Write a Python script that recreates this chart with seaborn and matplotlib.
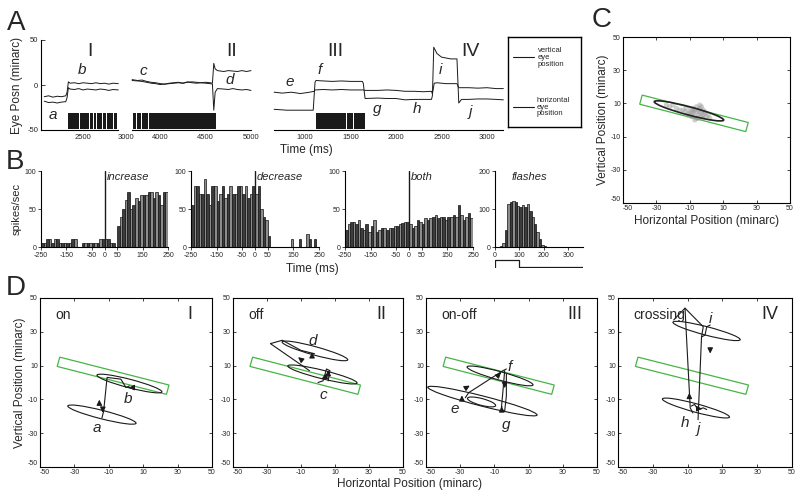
import matplotlib
matplotlib.use("Agg")
import numpy as np
import pandas as pd
import matplotlib.pyplot as plt
import seaborn as sns
from matplotlib.patches import Ellipse, Polygon

sns.set_theme(style="ticks")
plt.rcParams["font.family"] = ["Liberation Sans", "DejaVu Sans"]
plt.rcParams["axes.linewidth"] = 0.8
plt.rcParams["axes.edgecolor"] = "black"
plt.rcParams["axes.unicode_minus"] = False

W, H = 800, 498

# ---------------- Panel A data: eye position (minarc) vs time (ms) ----------------
segI_t = [2050, 2100, 2150, 2200, 2250, 2300, 2315, 2330, 2350, 2400, 2450, 2500, 2550, 2600, 2650, 2700, 2750, 2800, 2850, 2910]
segI_h = [-13, -12, -13.5, -12.5, -13, -12, -8, 3.5, 2, 2.5, 1.5, 2.5, 2, 1.5, 2.5, 1.5, 2, 1, 2, 1.5]
segI_v = [-18, -19.5, -19, -20, -19, -18.5, -14, -3, -4.5, -5, -4, -5.5, -4.5, -5, -5.5, -4.5, -5, -6, -5, -5.5]

segII_t = [3690, 3750, 3800, 3850, 3900, 3950, 4000, 4050, 4100, 4150, 4200, 4250, 4300, 4350, 4400, 4450, 4500, 4550, 4575, 4590, 4605, 4630, 4700, 4750, 4800, 4850, 4900, 4950, 5000]
segII_h = [6, 5, 5.5, 4, 3, 2.5, 1.5, 1, 2, 2.5, 3, 2, 3, 3.5, 3, 2.5, 3, 2.5, 2, 24, 18, 16, 15, 16, 15.5, 15, 16, 15, 16]
segII_v = [5, 4.5, 4, 3, 2, 1.5, 0.5, 1, 1.5, 2, 2.5, 2, 3.5, 2.5, 2, 2.5, 2, 1.5, 1, -28, -8, -4, -4.5, -5, -4, -5, -5.5, -5, -6]

segIII_t1 = [660, 750, 850, 950, 1050, 1100, 1110, 1200, 1300, 1400, 1500, 1640, 1660, 1800, 1900, 2000, 2100, 2200, 2300, 2390, 2400, 2420, 2450, 2550, 2670, 2690, 2800, 2900, 3000, 3100, 3180]
segIII_h = [-8, -9, -8, -9.5, -8, -7, -5.5, -5, -5.5, -5, -5.5, -5.5, -6, -6, -5.5, -6, -7, -7, -7.5, -7, -10, 2, 2.5, 1.5, 1.5, -3, -3, -3.5, -3, -4, -4]
segIII_t2 = [660, 800, 950, 1090, 1110, 1120, 1200, 1300, 1400, 1500, 1630, 1640, 1660, 1800, 1900, 2000, 2100, 2200, 2300, 2390, 2400, 2415, 2450, 2500, 2600, 2670, 2690, 2720, 2800, 2900, 3000, 3100, 3180]
segIII_v = [-27, -28, -28, -28, 3, 5, 4.5, 4, 4.5, 4, 4, 2, -15, -14.5, -15, -15, -16.5, -16, -16, -16, -12, 42, 35, 31, 29, 29, -20, -16, -16, -15.5, -15.5, -16, -16.5]

rasterI_start = [2330, 2364, 2460, 2538, 2577, 2623, 2663, 2701, 2732, 2779, 2817, 2856, 2875]
rasterI_end = [2357, 2453, 2531, 2570, 2616, 2656, 2694, 2725, 2772, 2810, 2849, 2868, 2892]
rasterII_start = [3700, 3743, 3800, 3836, 3873, 4374, 4541]
rasterII_end = [3736, 3793, 3829, 3866, 4367, 4534, 4615]
rasterIII_start = [1122, 1190, 1460, 1535]
rasterIII_end = [1183, 1453, 1528, 1655]

# ---------------- Panel B data: spikes/sec in 10 ms bins ----------------
bin_left = list(range(-250, 250, 10))
increase = [5, 5, 10, 10, 5, 10, 10, 5, 5, 5, 5, 5, 10, 10, 0, 0, 5, 5, 5, 5, 5, 5, 5, 10, 10,
            10, 10, 5, 5, 0, 28, 40, 50, 62, 72, 50, 55, 65, 60, 68, 68, 68, 72, 72, 65, 72, 68, 55, 72, 72]
decrease = [55, 80, 80, 70, 70, 90, 70, 55, 80, 80, 60, 70, 80, 65, 70, 80, 70, 70, 80, 80, 70, 80, 65, 70, 80,
            70, 80, 50, 40, 35, 15, 0, 0, 0, 0, 0, 0, 0, 0, 10, 0, 0, 10, 0, 0, 17, 10, 0, 10, 0]
both = [22, 30, 33, 33, 30, 35, 25, 22, 30, 20, 28, 35, 20, 22, 25, 25, 22, 25, 25, 28, 28, 30, 32, 33, 33,
        30, 25, 28, 35, 33, 30, 38, 35, 38, 40, 42, 38, 40, 40, 35, 40, 40, 42, 40, 55, 42, 35, 40, 45, 38]
flash_left = list(range(0, 210, 10))
flashes = [0, 0, 3, 10, 46, 113, 118, 120, 118, 109, 106, 111, 106, 113, 95, 80, 60, 40, 20, 6, 2]
stim_t = [0, 0, 100, 100, 360]
stim_v = [0, 1, 1, 0, 0]

# ---------------- Panel C / D data (minarc) ----------------
win_x = [-38.5, -40, 23.5, 25]
win_y = [15, 9.5, -7, -1.5]

fix_x = [-24, -22, -20, -18, -16, -14, -13, -12, -11, -10, -9, -9, -8, -8, -7, -7, -6, -6, -5, -5,
         -4, -4, -3, -3, -2, -2, -1, 0, 1, 2, -6, -9, -4, -7, -3, -11, -5, -8, -2, -1]
fix_y = [9, 8, 9, 7, 6, 6, 5, 7, 4, 5, 6, 3, 7, 4, 2, 6, 5, 8, 3, 6,
         4, 7, 2, 5, 3, 6, 4, 2, 3, 1, 1, 2, 9, 0, 8, 3, 1, 5, 1, 5]
c_ell = (-10.5, 5.5, 43, 5, -15)

panels = {
    "I": dict(
        name="on",
        ell=[(-14, -19, 41, 5, -14.5), (2, -0.6, 39, 5, -14.8)],
        paths=[([-14, -13, -11, -3, 0, 2], [-21, -17, 3, 2, -3, -2])],
        arrows=[((-15.5, -14), (-15.5, -8.5)), ((3.5, -3), (0, -3)), ((-13.5, -15), (-13.8, -19.5))],
        labels=[("a", -17, -27), ("b", 1, -10)]),
    "II": dict(
        name="off",
        ell=[(2.6, 4.75, 42, 5, -14), (-1.8, 18.7, 40, 5, -15.4)],
        paths=[([-5, -28, -21, -10, -2], [7, 23, 25, 19, 17]),
               ([0, 3, 5, 7, 6], [0, 1, 8, 7, 1])],
        arrows=[((-8, 12), (-13, 16)), ((6, 4), (6, 9)), ((-3.5, 15), (-3.5, 19.5)), ((4, 3), (0.5, 1.5))],
        labels=[("d", -3, 24.5), ("c", 3, -7.5)]),
    "III": dict(
        name="on-off",
        ell=[(-6.7, 3.9, 40, 5, -15.5), (-17, -11, 66, 6, -14.5), (-17.5, -11.5, 17, 4, -15)],
        paths=[([-27, -25, -5, -3], [-9, -6, 7, 8]),
               ([-4, -5, -6, -4, -3, -3], [7, -5, -16, -17, -8, 5])],
        arrows=[((-29, -11), (-29, -6)), ((-28, -4), (-23, -1)), ((-4, 1), (-4, -5)),
                ((-5.7, -16), (-5.7, -12.5)), ((-8, 4), (-5, 7))],
        labels=[("f", -1, 9), ("e", -33, -15.5), ("g", -3, -25)]),
    "IV": dict(
        name="crossing",
        ell=[(0.9, 30.5, 40, 5, -15), (-5.2, -15.1, 40, 5, -15.6)],
        paths=[([-18, -11.5, -8.5, -7], [37, 44, -15, -18]),
               ([-11.5, -1, -2, -4], [44, 33, 27, -22]),
               ([-2, 0, 1, 3], [27, 28, 33, 34]),
               ([-8, -6, -4, -1, 1], [-14, -13, -16, -15, -16])],
        arrows=[((-9, -11), (-9, -4.5)), ((3, 22), (3, 15.5)), ((-4, -15.5), (0, -15.5))],
        labels=[("i", 3, 37.5), ("h", -11.5, -24), ("j", -4, -27.5)]),
}

# ---------------- figure ----------------
fig = plt.figure(figsize=(W / 100, H / 100), dpi=100)


def rect(x0, y0, x1, y1):
    return [x0 / W, 1 - y1 / H, (x1 - x0) / W, (y1 - y0) / H]


def ftext(x, y, s, **kw):
    fig.text(x / W, 1 - y / H, s, **kw)


GREEN = "#45b545"

# ---- Panel A ----
axA1 = fig.add_axes(rect(41, 40, 130, 130))
axA2 = fig.add_axes(rect(130, 40, 256, 130))
axA3 = fig.add_axes(rect(272, 40, 505, 130))
specs = [
    (axA1, (2012, 3046), segI_t, segI_h, segI_t, segI_v, rasterI_start, rasterI_end, [2500, 3000], (2012, 2910)),
    (axA2, (3667, 5055), segII_t, segII_h, segII_t, segII_v, rasterII_start, rasterII_end, [4000, 4500, 5000], (3690, 5000)),
    (axA3, (637, 3198), segIII_t1, segIII_h, segIII_t2, segIII_v, rasterIII_start, rasterIII_end,
     [1000, 1500, 2000, 2500, 3000], (660, 3180)),
]
for ax, xl, t1, y1, t2, y2, rs, re, xt, bnd in specs:
    sns.lineplot(x=t1, y=y1, ax=ax, color="k", lw=0.7, estimator=None, sort=False)
    sns.lineplot(x=t2, y=y2, ax=ax, color="k", lw=0.7, estimator=None, sort=False)
    ax.broken_barh([(s, e - s) for s, e in zip(rs, re)], (-49, 18), facecolors="k", edgecolors="none")
    ax.set_xlim(*xl)
    ax.set_ylim(-50, 50)
    ax.set_xticks(xt)
    ax.tick_params(axis="x", length=0, labelsize=5.5, pad=3)
    ax.tick_params(axis="y", direction="in", length=3, width=0.6, labelsize=5.5, pad=2)
    for s in ["top", "right"]:
        ax.spines[s].set_visible(False)
    ax.spines["bottom"].set_bounds(*bnd)
    ax.set_xlabel("")
    ax.set_ylabel("")
    ax.patch.set_alpha(0)
axA1.set_yticks([-50, 0, 50])
axA1.set_yticklabels(["-50", "0", "50"])
axA1.spines["left"].set_bounds(-50, 50)
for ax in (axA2, axA3):
    ax.spines["left"].set_visible(False)
    ax.set_yticks([])
axA1.set_ylabel("Eye Posn (minarc)", fontsize=8.5, labelpad=3)

# legend box
axL = fig.add_axes(rect(508, 37, 581, 127))
axL.set_xlim(0, 1)
axL.set_ylim(0, 1)
axL.set_xticks([])
axL.set_yticks([])
for s in axL.spines.values():
    s.set_linewidth(1.0)
axL.plot([0.07, 0.36], [0.78, 0.78], color="k", lw=0.8)
axL.plot([0.07, 0.36], [0.22, 0.22], color="k", lw=0.8)
axL.text(0.41, 0.77, "vertical\neye\nposition", fontsize=5.5, va="center", ha="left", linespacing=0.95)
axL.text(0.39, 0.22, "horizontal\neye\nposition", fontsize=5.5, va="center", ha="left", linespacing=0.95)

for s, x, y in [("I", 90, 51), ("II", 232, 51), ("III", 335, 51), ("IV", 470, 51)]:
    ftext(x, y, s, fontsize=14, ha="center", va="center")
for s, x, y in [("a", 53, 115), ("b", 82, 70), ("c", 143, 71), ("d", 230, 80), ("e", 290, 82),
                ("f", 320, 70), ("g", 377, 109), ("h", 417, 109), ("i", 440, 70), ("j", 470, 112)]:
    ftext(x, y, s, fontsize=11, style="italic", ha="center", va="center")
ftext(306, 150, "Time (ms)", fontsize=8.5, ha="center", va="center")

# ---- Panel B ----
DARK, LIGHT = "#3c3c3c", "#8c8c8c"


def hist_panel(ax, lefts, vals, width, xlim, ylim, xt, yt):
    edges = list(lefts) + [lefts[-1] + width]
    for parity, col in ((0, DARK), (1, LIGHT)):
        xs = [l + width / 2 for i, l in enumerate(lefts) if i % 2 == parity]
        ws = [v for i, v in enumerate(vals) if i % 2 == parity]
        sns.histplot(x=xs, weights=ws, bins=edges, ax=ax, color=col, facecolor=col,
                     edgecolor="black", linewidth=0.45, alpha=1)
    ax.set_xlim(*xlim)
    ax.set_ylim(*ylim)
    ax.set_xticks(xt)
    ax.set_yticks(yt)
    ax.tick_params(direction="out", length=2, width=0.6, labelsize=5, pad=1.5)
    for s in ["top", "right"]:
        ax.spines[s].set_visible(False)
    ax.set_xlabel("")
    ax.set_ylabel("")
    ax.patch.set_alpha(0)


bx = [-250, -150, -50, 0, 50, 150, 250]
axB = []
for (x0, x1), vals, lab in [((41, 168), increase, "increase"), ((191, 319), decrease, "decrease"),
                            ((345, 473), both, "both")]:
    ax = fig.add_axes(rect(x0, 171, x1, 247))
    hist_panel(ax, bin_left, vals, 10, (-250, 250), (0, 100), bx, [0, 50, 100])
    ax.axvline(0, color="k", lw=1.0, ymin=0, ymax=1)
    ax.text(8, 92, lab, fontsize=8, style="italic", ha="left", va="center")
    axB.append(ax)
axB[0].set_ylabel("spikes/sec", fontsize=8, labelpad=2)

axB4 = fig.add_axes(rect(495, 171, 583, 247))
hist_panel(axB4, flash_left, flashes, 10, (0, 361), (0, 200), [0, 100, 200, 300], [0, 100, 200])
axB4.text(140, 184, "flashes", fontsize=8, style="italic", ha="center", va="center")
axS = fig.add_axes(rect(495, 259, 583, 268))
sns.lineplot(x=stim_t, y=stim_v, ax=axS, color="k", lw=0.9, estimator=None, sort=False)
axS.set_xlim(0, 361)
axS.set_ylim(-0.1, 1.1)
axS.axis("off")
ftext(312, 269, "Time (ms)", fontsize=8.5, ha="center", va="center")

# ---- Panel C / D helpers ----
def pos_axes(ax):
    ax.set_xlim(-50, 50)
    ax.set_ylim(-50, 50)
    ticks = [-50, -30, -10, 10, 30, 50]
    ax.set_xticks(ticks)
    ax.set_yticks(ticks)
    ax.tick_params(direction="in", top=True, right=True, length=2.5, width=0.6, labelsize=5, pad=1.5)
    for s in ax.spines.values():
        s.set_visible(True)
        s.set_linewidth(0.8)
    ax.add_patch(Polygon(list(zip(win_x, win_y)), closed=True, fill=False, ec=GREEN, lw=0.9))


def fix_corner(ax):
    fig.canvas.draw()
    ax.get_xticklabels()[0].set_horizontalalignment("left")
    ax.get_yticklabels()[0].set_verticalalignment("bottom")


# ---- Panel C ----
axC = fig.add_axes(rect(623, 37, 790, 203))
pos_axes(axC)
sns.scatterplot(x=fix_x, y=fix_y, ax=axC, color="#9a9a9a", s=14, alpha=0.45, edgecolor="none")
cx, cy, cw, ch, ca = c_ell
axC.add_patch(Ellipse((cx, cy), cw, ch, angle=ca, fill=False, ec="#222222", lw=1.2))
axC.set_xlabel("Horizontal Position (minarc)", fontsize=8.5, labelpad=2)
axC.set_ylabel("Vertical Position (minarc)", fontsize=8.5, labelpad=1)
pos_list = [axC]

# ---- Panel D ----
d_rects = {"I": (40, 212), "II": (233, 403), "III": (426, 597), "IV": (618, 792)}
for key, (x0, x1) in d_rects.items():
    p = panels[key]
    ax = fig.add_axes(rect(x0, 298, x1, 467))
    pos_axes(ax)
    for (ex, ey, ew, eh, ea) in p["ell"]:
        ax.add_patch(Ellipse((ex, ey), ew, eh, angle=ea, fill=False, ec="k", lw=0.8))
    for px, py in p["paths"]:
        sns.lineplot(x=px, y=py, ax=ax, color="k", lw=0.8, estimator=None, sort=False)
    for tail, tip in p["arrows"]:
        ax.annotate("", xy=tip, xytext=tail,
                    arrowprops=dict(arrowstyle="-|>", color="k", lw=0.8, mutation_scale=8))
    for s, lx, ly in p["labels"]:
        ax.text(lx, ly, s, fontsize=11, style="italic", ha="center", va="center")
    ax.text(-41, 40, p["name"], fontsize=10, ha="left", va="center")
    ax.text(37, 40, key, fontsize=13, ha="center", va="center")
    ax.set_xlabel("")
    ax.set_ylabel("")
    if key == "I":
        ax.set_ylabel("Vertical Position (minarc)", fontsize=8.5, labelpad=1)
    pos_list.append(ax)
ftext(410, 484, "Horizontal Position (minarc)", fontsize=8.5, ha="center", va="center")

for ax in pos_list:
    fix_corner(ax)

# ---- panel letters ----
for s, x, y in [("A", 7, 30), ("B", 6, 169), ("C", 592, 27), ("D", 6, 295)]:
    ftext(x, y, s, fontsize=20, ha="left", va="baseline")

fig.savefig("out.png", dpi=100)
